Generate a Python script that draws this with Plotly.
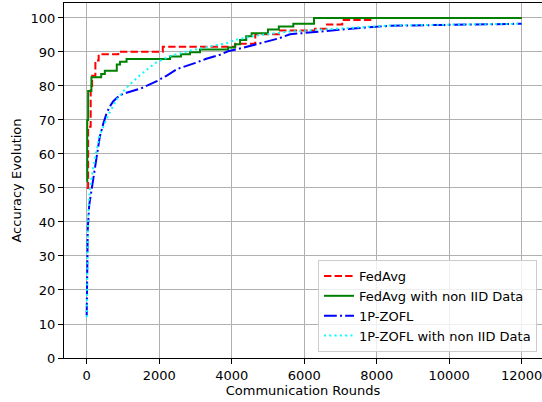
import plotly.graph_objects as go

# FedAvg (red dashed) - step points
fedavg_x = [0, 40, 110, 150, 240, 330, 870, 2100, 4100, 4650, 5300, 6300, 6630, 7050, 7870, 12000]
fedavg_y = [50, 68, 80, 83, 87.5, 89.3, 90.1, 91.5, 92.4, 95.2, 96.3, 96.8, 98.1, 99.4, 100, 100]

# FedAvg with non IID Data (green solid) - step points
fedavg_niid_x = [0, 15, 40, 130, 400, 500, 830, 920, 1100, 2300, 2600, 2850, 3125, 3900, 4090,
                 4230, 4400, 4550, 5000, 5300, 5700, 6270, 12000]
fedavg_niid_y = [52, 70, 78.5, 82.6, 83.5, 84.5, 86.3, 87.1, 87.9, 88.7, 89.3, 89.9, 90.7, 91.3, 92.3,
                 93.5, 94.6, 95.5, 96.6, 97.5, 98.3, 100, 100]

# 1P-ZOFL (blue dash-dot)
zofl_x = [0, 10, 30, 70, 180, 270, 360, 460, 550, 640, 735, 900, 1100, 1500, 1950, 2200, 2500,
          3000, 3300, 3680, 3900, 4300, 4700, 5300, 5610, 6530, 7450, 8370, 9750, 12000]
zofl_y = [12.5, 25, 38, 45, 53, 58.5, 65, 69, 72, 74, 75.5, 77.2, 78, 79.3, 81.5, 83, 85,
          86.8, 88, 89.2, 90.2, 91.2, 92.4, 94, 95.2, 96.2, 97, 97.7, 98.0, 98.3]

# 1P-ZOFL with non IID Data (cyan dotted)
zofl_niid_x = [0, 15, 40, 90, 180, 360, 600, 820, 1100, 1450, 1900, 2300, 2850, 3400, 3870, 4090,
               4650, 5600, 6500, 7450, 8400, 9750, 12000]
zofl_niid_y = [12, 30, 42, 50, 56, 65.5, 71.5, 76, 79.5, 83, 86.8, 88.8, 90.4, 91.6, 92.6, 93.5,
               94.8, 96.0, 96.6, 97.1, 97.8, 98.0, 98.3]

x_ticks = [0, 2000, 4000, 6000, 8000, 10000, 12000]
y_ticks = [0, 10, 20, 30, 40, 50, 60, 70, 80, 90, 100]

fig = go.Figure()
fig.add_trace(go.Scatter(x=fedavg_x, y=fedavg_y, mode="lines", name="FedAvg", line_shape="hv",
                         line=dict(color="#ff0000", width=2, dash="7.4px,3.2px")))
fig.add_trace(go.Scatter(x=fedavg_niid_x, y=fedavg_niid_y, mode="lines", name="FedAvg with non IID Data",
                         line_shape="hv", line=dict(color="#008000", width=2)))
fig.add_trace(go.Scatter(x=zofl_x, y=zofl_y, mode="lines", name="1P-ZOFL",
                         line=dict(color="#0000ff", width=2, dash="12.8px,3.2px,2px,3.2px")))
fig.add_trace(go.Scatter(x=zofl_niid_x, y=zofl_niid_y, mode="lines", name="1P-ZOFL with non IID Data",
                         line=dict(color="#00ffff", width=2, dash="2px,3.3px")))

font = dict(family="DejaVu Sans", size=13, color="#000000")
fig.update_layout(
    width=542, height=402,
    margin=dict(l=64, r=0, t=3, b=44, autoexpand=False),
    paper_bgcolor="white", plot_bgcolor="white",
    font=font,
    showlegend=True,
    legend=dict(x=0.9895, y=0.017, xanchor="right", yanchor="bottom",
                bgcolor="rgba(255,255,255,0.8)", bordercolor="#cccccc", borderwidth=1,
                font=dict(family="DejaVu Sans", size=13, color="#000000"),
                itemwidth=30, tracegroupgap=0),
    xaxis=dict(range=[-626, 12560], tickvals=x_ticks, ticktext=[str(v) for v in x_ticks],
               automargin=False, ticklabeloverflow="allow",
               showgrid=True, gridcolor="#b0b0b0", gridwidth=1,
               showline=True, linecolor="black", linewidth=1, mirror=True,
               ticks="outside", ticklen=5, tickcolor="black", zeroline=False,
               title=dict(text="Communication Rounds", font=font, standoff=4)),
    yaxis=dict(range=[0, 104.4], tickvals=y_ticks, ticktext=[str(v) for v in y_ticks],
               automargin=False, ticklabeloverflow="allow",
               showgrid=True, gridcolor="#b0b0b0", gridwidth=1,
               showline=True, linecolor="black", linewidth=1, mirror=False,
               ticks="outside", ticklen=5, tickcolor="black", zeroline=False,
               title=dict(text="Accuracy Evolution", font=font, standoff=6)),
)
fig.write_html(
    "out.html",
    config={"displayModeBar": False},
    post_script="document.body.style.margin='0';document.body.style.overflow='hidden';",
)
